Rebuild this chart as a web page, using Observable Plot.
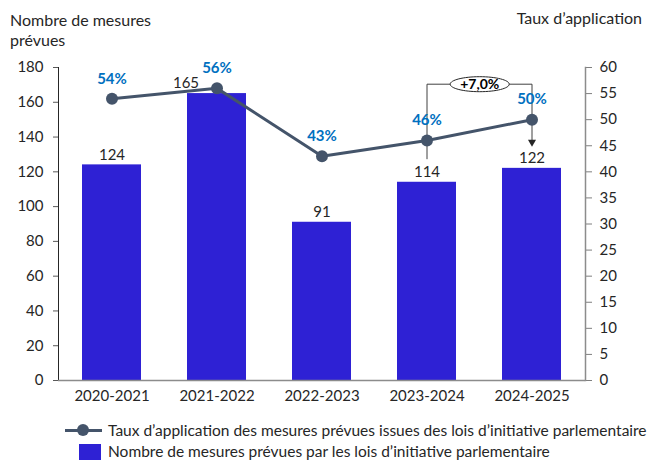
<!DOCTYPE html>
<html><head><meta charset="utf-8">
<script src="https://cdn.jsdelivr.net/npm/d3@7"></script>
<script src="https://cdn.jsdelivr.net/npm/@observablehq/plot@0.6"></script>
<style>
body{margin:0;background:#fff;font-family:Lato,sans-serif;}
#wrap{position:relative;width:648px;height:460px;overflow:hidden;background:#fff;}
.t{position:absolute;font-size:16px;color:#262626;line-height:20px;white-space:nowrap;}
#chart{position:absolute;left:0;top:50px;}
.lt{position:absolute;font-size:15.5px;color:#262626;line-height:20px;white-space:nowrap;}
.sw{position:absolute;}
</style></head><body>
<div id="wrap">
  <div class="t" id="titleLeft" style="left:10px;top:10px"></div>
  <div class="t" id="titleRight" style="right:6px;top:8px"></div>
  <div id="chart"></div>
  <div class="sw" style="left:65px;top:428.5px;width:37px;height:3px;background:#44546A"></div>
  <div class="sw" style="left:77px;top:424px;width:12px;height:12px;border-radius:50%;background:#44546A"></div>
  <div class="lt" id="leg1" style="left:108px;top:420px"></div>
  <div class="sw" style="left:79px;top:444px;width:22px;height:16px;background:#2E21D4"></div>
  <div class="lt" id="leg2" style="left:108px;top:441px"></div>
</div>
<script>
const years = ["2020-2021", "2021-2022", "2022-2023", "2023-2024", "2024-2025"];
const counts = [124, 165, 91, 114, 122];
const rates = [54, 56, 43, 46, 50];
const countTicks = [0, 20, 40, 60, 80, 100, 120, 140, 160, 180];
const rateTicks = [0, 5, 10, 15, 20, 25, 30, 35, 40, 45, 50, 55, 60];
const leftTitle = ["Nombre de mesures", "prévues"];
const rightTitle = "Taux d’application";
const lineSeriesName = "Taux d’application des mesures prévues issues des lois d’initiative parlementaire";
const barSeriesName = "Nombre de mesures prévues par les lois d’initiative parlementaire";
const changeLabel = "+7,0%";
const changeFrom = "2023-2024", changeTo = "2024-2025";
const shiftedLabelYear = "2021-2022";
const bracketTop = 56.8, bracketLow = 42.5, arrowTip = 45.7;

const k = 180 / 60; // right axis (0–60) drawn on the left scale (0–180)

document.getElementById("titleLeft").innerHTML = leftTitle.join("<br>");
document.getElementById("titleRight").textContent = rightTitle;
document.getElementById("leg1").textContent = lineSeriesName;
document.getElementById("leg2").textContent = barSeriesName;

const data = years.map((year, i) => ({year, count: counts[i], rate: rates[i]}));
const bracket = [
  {year: changeFrom, rate: bracketLow},
  {year: changeFrom, rate: bracketTop},
  {year: changeTo, rate: bracketTop},
  {year: changeTo, rate: arrowTip}
];

const ellipse = {
  draw(ctx) {
    const rx = 29.5, ry = 7.5, c = 0.5523;
    ctx.moveTo(rx, 0);
    ctx.bezierCurveTo(rx, ry * c, rx * c, ry, 0, ry);
    ctx.bezierCurveTo(-rx * c, ry, -rx, ry * c, -rx, 0);
    ctx.bezierCurveTo(-rx, -ry * c, -rx * c, -ry, 0, -ry);
    ctx.bezierCurveTo(rx * c, -ry, rx, -ry * c, rx, 0);
    ctx.closePath();
  }
};

const half = 52.7;

const chart = Plot.plot({
  width: 648,
  height: 365,
  marginLeft: 58,
  marginRight: 63,
  marginTop: 17,
  marginBottom: 35,
  style: {fontFamily: "Lato, sans-serif", fontSize: "15px", color: "#262626", background: "transparent"},
  x: {domain: years, paddingInner: 0.44, paddingOuter: 0.22, label: null},
  y: {domain: [0, 180], label: null},
  marks: [
    Plot.barY(data, {x: "year", y: "count", fill: "#2E21D4"}),
    Plot.axisY({ticks: countTicks, tickSize: 5, tickPadding: 10, stroke: "#595959", label: null}),
    Plot.axisY({anchor: "right", ticks: rateTicks.map(v => v * k), tickFormat: d => d / k, tickSize: 6, tickPadding: 8, stroke: "#7f7f7f", label: null}),
    Plot.frame({anchor: "left", stroke: "#262626"}),
    Plot.frame({anchor: "right", stroke: "#8c8c8c", strokeWidth: 1.5}),
    Plot.ruleY([0], {stroke: "#8c8c8c", strokeWidth: 1.5}),
    Plot.axisX({tickSize: 0, tickPadding: 10, label: null, fontWeight: 400}),
    Plot.line(bracket, {x: "year", y: d => d.rate * k, stroke: "#404040", strokeWidth: 1, curve: "linear"}),
    Plot.dot([bracket[3]], {x: "year", y: d => d.rate * k, symbol: "triangle", rotate: 180, r: 3, fill: "#262626", stroke: null}),
    Plot.dot([bracket[1]], {x: "year", y: d => d.rate * k, dx: half, symbol: ellipse, fill: "white", stroke: "#262626", strokeWidth: 1}),
    Plot.text([bracket[1]], {x: "year", y: d => d.rate * k, dx: half, text: () => changeLabel, fontWeight: "bold", fontSize: 14, fill: "#000"}),
    Plot.line(data, {x: "year", y: d => d.rate * k, stroke: "#44546A", strokeWidth: 3}),
    Plot.dot(data, {x: "year", y: d => d.rate * k, r: 6, fill: "#44546A", stroke: null}),
    Plot.text(data, {x: "year", y: d => d.rate * k, text: d => d.rate + "%", dy: -20, fill: "#0070C0", fontWeight: "bold", fontSize: 15}),
    Plot.text(data.filter(d => d.year !== shiftedLabelYear), {x: "year", y: "count", text: d => String(d.count), dy: -10, fill: "#262626", fontSize: 15}),
    Plot.text(data.filter(d => d.year === shiftedLabelYear), {x: "year", y: "count", text: d => String(d.count), dy: -10, dx: -31, fill: "#262626", fontSize: 15})
  ]
});
document.getElementById("chart").appendChild(chart);
</script>
</body></html>
